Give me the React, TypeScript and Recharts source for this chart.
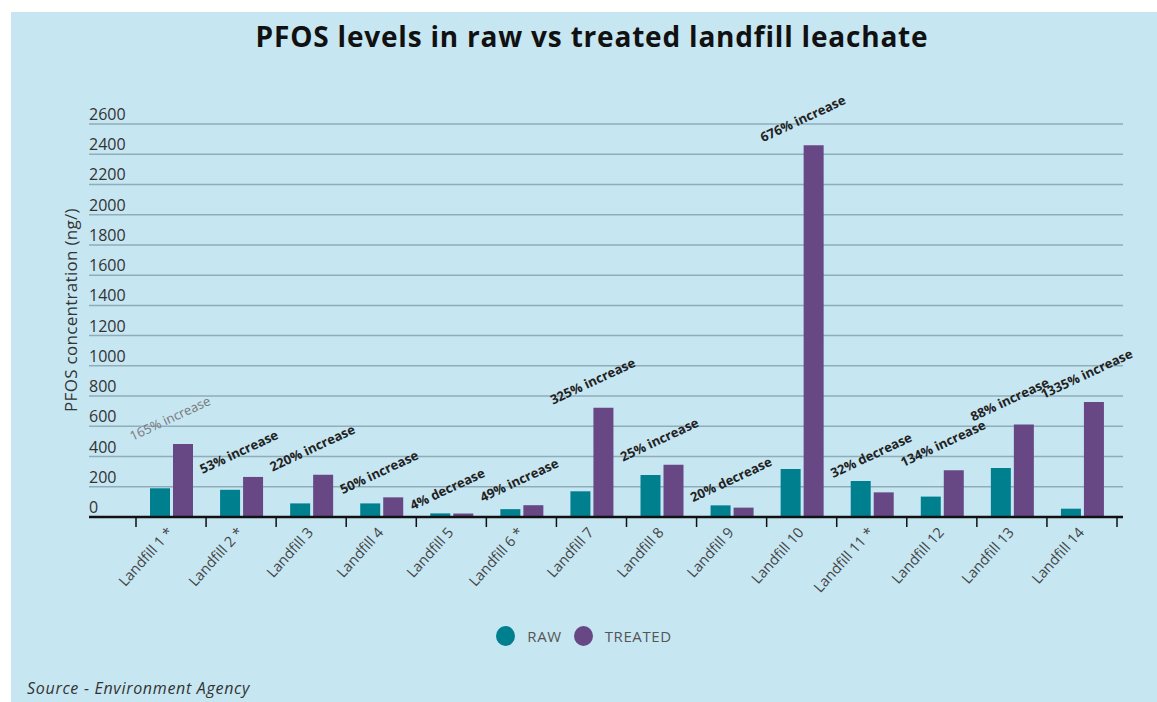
import React from 'react';
import { BarChart, Bar, XAxis, YAxis, CartesianGrid, LabelList } from 'recharts';

const categories = [
  'Landfill 1 *', 'Landfill 2 *', 'Landfill 3', 'Landfill 4', 'Landfill 5', 'Landfill 6 *', 'Landfill 7',
  'Landfill 8', 'Landfill 9', 'Landfill 10', 'Landfill 11 *', 'Landfill 12', 'Landfill 13', 'Landfill 14',
];
const rawValues = [190, 180, 90, 90, 24, 52, 170, 278, 77, 317, 238, 135, 325, 55];
const treatedValues = [483, 265, 280, 130, 23, 78, 722, 346, 62, 2459, 163, 310, 612, 760];
const changeLabels = [
  '165% increase', '53% increase', '220% increase', '50% increase', '4% decrease', '49% increase', '325% increase',
  '25% increase', '20% decrease', '676% increase', '32% decrease', '134% increase', '88% increase', '1335% increase',
];
const yTicks = [0, 200, 400, 600, 800, 1000, 1200, 1400, 1600, 1800, 2000, 2200, 2400, 2600];

const data = categories.map((name, i) => ({ name, raw: rawValues[i], treated: treatedValues[i] }));

const BG = '#c6e6f2';
const RAW_COLOR = '#00808f';
const TREATED_COLOR = '#674884';
const FONT = '"Open Sans", sans-serif';

const W = 1146;
const H = 690;
const PLOT_LEFT = 78;
const PLOT_RIGHT = 1112;
const PLOT_BOTTOM = 505;
const PAD_L = 47;
const PAD_R = 6;
const BAND = (PLOT_RIGHT - PLOT_LEFT - PAD_L - PAD_R) / categories.length;

const YTick = (props: any) => {
  const { y, payload } = props;
  return (
    <text x={PLOT_LEFT} y={y - 4} fill="#333" fontSize={16} fontFamily={FONT} textAnchor="start">
      {payload.value}
    </text>
  );
};

const XTick = (props: any) => {
  const { x, payload, index } = props;
  const y0 = PLOT_BOTTOM;
  const last = index === categories.length - 1;
  return (
    <g>
      <line x1={x - BAND / 2} x2={x - BAND / 2} y1={y0} y2={y0 + 10} stroke="#111" strokeWidth={1.5} />
      {last && <line x1={x + BAND / 2} x2={x + BAND / 2} y1={y0} y2={y0 + 10} stroke="#111" strokeWidth={1.5} />}
      <text
        x={x + 3}
        y={y0 + 16}
        textAnchor="end"
        transform={`rotate(-48, ${x + 3}, ${y0 + 16})`}
        fill="#444"
        fontSize={14.5}
        fontFamily={FONT}
      >
        {payload.value}
      </text>
    </g>
  );
};

const ChangeLabel = (props: any) => {
  const vb = props.viewBox || props;
  const x = vb.x ?? props.x;
  const y = vb.y ?? props.y;
  const h = vb.height ?? props.height;
  let i = props.index;
  if (i === undefined) i = treatedValues.indexOf(props.value);
  const bottom = y + h;
  const rawTop = bottom - (h * rawValues[i]) / treatedValues[i];
  const top = Math.min(y, rawTop);
  const left = x - 1.5 - BAND / 2;
  const first = i === 0;
  return (
    <text
      x={left - 4}
      y={top - 3}
      transform={`rotate(-25, ${left - 4}, ${top - 3})`}
      fontSize={13}
      fontWeight={first ? 400 : 700}
      fill={first ? '#777' : '#222'}
      fontFamily={FONT}
    >
      {changeLabels[i]}
    </text>
  );
};

const YLabel = () => (
  <text
    x={61}
    y={298}
    transform="rotate(-90, 61, 298)"
    textAnchor="middle"
    dominantBaseline="middle"
    fill="#333"
    fontSize={17}
    fontFamily={FONT}
    letterSpacing={0.3}
  >
    PFOS concentration (ng/)
  </text>
);

export default function App() {
  return (
    <div style={{ position: 'absolute', left: 11, top: 12, width: W, height: H, background: BG, overflow: 'hidden', fontFamily: FONT }}>
      <div style={{ position: 'absolute', left: 0, top: 7, width: 1162, textAlign: 'center', fontSize: 28, fontWeight: 700, color: '#111', lineHeight: '34px', letterSpacing: 0.8 }}>
        PFOS levels in raw vs treated landfill leachate
      </div>
      <BarChart width={W} height={H} data={data} margin={{ top: 112, right: W - PLOT_RIGHT, left: 18, bottom: H - PLOT_BOTTOM - 80 }} barSize={20} barGap={3}>
        <CartesianGrid vertical={false} stroke="#8fadb9" strokeWidth={1.5} />
        <XAxis
          dataKey="name"
          interval={0}
          height={80}
          padding={{ left: PAD_L, right: PAD_R }}
          axisLine={{ stroke: '#111', strokeWidth: 2.5 }}
          tickLine={false}
          tick={<XTick />}
        />
        <YAxis
          width={60}
          domain={[0, 2600]}
          ticks={yTicks}
          interval={0}
          axisLine={false}
          tickLine={false}
          tick={<YTick />}
          label={<YLabel />}
        />
        <Bar dataKey="raw" fill={RAW_COLOR} isAnimationActive={false} />
        <Bar dataKey="treated" fill={TREATED_COLOR} isAnimationActive={false}>
          <LabelList dataKey="treated" content={<ChangeLabel />} />
        </Bar>
      </BarChart>
      <div style={{ position: 'absolute', left: 0, top: 614, width: W, display: 'flex', justifyContent: 'center', alignItems: 'center', fontSize: 15, color: '#555', letterSpacing: 0.6 }}>
        <span style={{ width: 19, height: 20, borderRadius: '50%', background: RAW_COLOR, display: 'inline-block', marginRight: 12 }} />
        <span style={{ marginRight: 12 }}>RAW</span>
        <span style={{ width: 19, height: 20, borderRadius: '50%', background: TREATED_COLOR, display: 'inline-block', marginRight: 12 }} />
        <span>TREATED</span>
      </div>
      <div style={{ position: 'absolute', left: 16, top: 666, fontSize: 16, lineHeight: '20px', fontStyle: 'italic', color: '#333', letterSpacing: 0.7 }}>
        Source - Environment Agency
      </div>
    </div>
  );
}
